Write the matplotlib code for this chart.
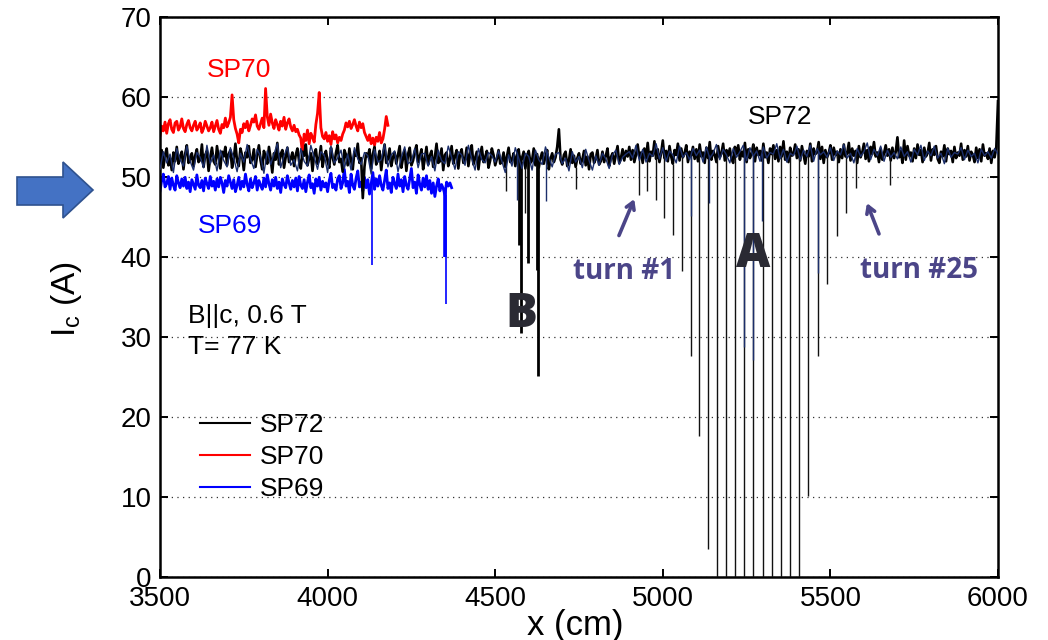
import numpy as np
import matplotlib
matplotlib.use('Agg')
import matplotlib.pyplot as plt
from matplotlib.patches import Polygon

plt.rcParams['font.family'] = ['Liberation Sans', 'DejaVu Sans']
plt.rcParams['mathtext.fontset'] = 'custom'
plt.rcParams['mathtext.rm'] = 'Liberation Sans'

# ---------------- data ----------------
x_ticks = [3500, 4000, 4500, 5000, 5500, 6000]
y_ticks = [0, 10, 20, 30, 40, 50, 60, 70]

# SP72 main trace, samples every 5 cm from 3500 cm
sp72_start, sp72_step = 3500, 5
sp72 = [
 52.1,53.4,51.2,52.8,53.6,51.5,52.4,50.9,53.1,52.0,53.8,51.7,52.6,53.2,51.0,52.9,54.0,51.8,52.3,53.0,
 51.4,52.7,53.5,51.9,52.2,54.1,51.3,52.8,53.3,50.8,52.5,53.7,52.0,51.6,53.9,52.4,51.1,53.2,52.6,53.8,
 51.5,52.9,53.4,51.2,52.3,54.2,52.0,51.4,53.6,52.7,50.9,53.1,52.5,53.9,51.8,52.2,53.5,51.3,52.8,54.0,
 52.1,51.0,53.3,52.6,51.7,53.8,52.4,50.6,53.0,52.2,54.3,51.6,52.9,53.4,51.2,52.5,53.7,51.9,52.3,53.1,
 51.4,52.8,53.6,52.0,51.1,53.2,52.7,54.1,51.5,52.4,53.0,50.8,52.9,53.5,51.7,52.2,53.9,51.3,52.6,53.3,
 52.0,51.2,53.7,52.5,51.6,53.1,54.0,51.9,52.3,50.7,53.4,52.8,51.5,53.6,52.1,51.0,53.2,52.7,54.2,51.8,
 52.4,47.4,51.3,53.0,52.6,53.5,51.1,52.9,53.8,51.6,52.2,53.3,50.9,52.7,54.1,51.8,52.3,53.6,51.4,52.5,
 53.1,51.7,52.8,53.9,51.2,52.4,53.4,50.8,52.9,53.7,51.5,52.1,53.2,54.0,51.9,52.6,53.5,51.0,52.3,53.8,
 51.6,52.7,53.3,51.3,52.5,54.2,51.8,52.0,53.6,50.9,52.8,53.1,51.4,52.3,53.9,51.7,52.6,53.4,51.1,52.9,
 53.5,51.8,52.2,53.7,51.4,52.9,54.0,51.6,52.4,53.2,51.0,52.7,53.8,51.9,52.5,53.3,51.2,52.1,53.6,52.8,
 51.5,52.3,53.4,51.7,52.0,53.1,51.3,52.6,53.7,51.9,52.2,53.0,51.4,52.8,53.5,51.6,52.4,53.2,51.1,52.7,
 53.3,51.8,52.1,53.6,51.5,52.9,51.2,52.4,53.1,51.7,52.6,53.4,51.0,52.3,53.0,51.9,52.5,53.8,56.0,52.2,
 51.6,52.8,53.2,51.4,52.1,53.5,51.8,52.7,51.3,52.4,53.0,51.7,52.2,53.3,51.5,52.6,51.0,52.9,53.1,51.8,
 52.3,53.4,51.6,52.0,53.2,51.9,52.7,53.6,51.4,52.5,53.0,51.7,52.8,53.9,51.8,52.4,53.5,52.1,53.3,52.6,
 53.8,52.2,53.4,51.9,52.8,54.1,52.5,53.1,51.8,53.6,52.4,54.3,52.0,53.2,52.7,54.5,52.3,53.5,51.9,53.0,
 54.6,52.4,53.3,52.0,53.9,52.6,51.7,53.4,52.8,54.2,52.1,53.6,52.5,53.0,54.0,51.9,53.2,52.7,53.8,52.3,
 53.5,52.0,54.1,52.6,53.1,51.8,53.7,52.4,54.4,52.2,53.3,52.8,51.9,53.9,52.5,53.0,54.2,52.1,53.4,52.7,
 53.6,52.3,51.8,53.8,52.9,54.0,52.2,53.2,52.6,54.3,51.9,53.5,52.4,53.0,54.1,52.0,53.7,52.8,53.3,52.1,
 54.2,52.5,53.1,51.8,53.6,52.9,54.0,52.3,53.4,52.0,53.8,52.6,54.5,52.2,53.2,51.9,53.7,52.7,53.0,54.1,
 52.4,53.5,52.1,53.9,52.8,51.7,53.3,52.6,54.2,52.0,53.6,52.9,53.1,54.4,52.3,53.8,51.8,53.4,52.5,53.0,
 54.0,52.2,53.7,52.8,53.2,51.9,53.5,52.4,54.1,52.6,53.0,54.3,52.1,53.6,52.7,53.3,51.8,53.9,52.5,53.1,
 54.2,52.3,53.4,52.0,53.8,52.9,54.4,52.6,53.1,51.9,53.6,52.2,53.0,54.0,52.7,53.5,52.1,53.7,52.4,53.2,
 55.0,52.5,53.3,51.8,54.6,52.2,53.9,52.7,53.1,52.0,53.6,52.4,54.1,52.8,53.4,51.9,53.7,52.6,53.0,54.3,
 52.1,53.5,52.8,53.9,52.3,51.8,53.2,52.6,54.0,52.0,53.6,52.9,53.3,51.9,53.8,52.4,53.1,52.7,54.2,52.2,
 53.4,52.6,53.9,52.1,53.2,52.8,51.9,53.7,52.4,53.5,52.0,54.1,52.7,53.0,52.3,53.6,51.8,53.3,52.5,53.8,
 59.5]

# SP72 second (navy) trace, samples every 10 cm from 3500 cm
sp72b_start, sp72b_step = 3500, 10
sp72b = [
 51.0,53.2,51.8,52.9,50.6,53.6,52.2,51.4,53.9,52.0,50.9,53.1,52.5,51.2,54.0,51.7,52.8,50.8,53.4,52.1,
 51.3,53.7,52.4,50.7,53.0,51.9,54.1,52.3,51.1,53.5,52.6,50.5,53.3,51.6,52.9,54.2,51.2,52.7,53.8,51.5,
 52.2,50.8,53.6,52.0,51.4,54.0,52.5,51.0,53.2,52.8,50.6,53.9,51.8,52.4,53.4,51.1,52.9,50.9,53.7,52.3,
 51.6,53.1,52.7,50.4,53.5,51.9,52.2,54.1,51.3,52.8,53.3,50.7,52.5,53.8,51.7,52.0,53.6,51.2,52.9,53.0,
 51.4,52.6,50.8,53.4,52.1,51.7,53.9,52.5,51.0,53.2,52.8,51.5,54.0,52.3,50.9,53.6,52.2,51.8,53.1,52.7,
 51.9,53.3,52.0,50.6,52.8,51.4,53.7,52.4,51.1,53.0,52.6,50.9,53.4,52.2,51.6,53.8,52.5,51.3,52.9,53.1,
 51.7,52.4,50.8,53.2,51.9,52.6,51.2,53.5,52.1,50.9,52.7,51.5,53.0,52.3,51.1,52.8,53.4,51.6,52.5,52.9,
 53.2,52.4,54.0,52.1,53.5,51.9,53.0,52.6,54.2,52.3,53.7,52.0,53.3,52.8,51.8,53.9,52.5,53.1,52.2,53.6,
 52.7,53.4,51.9,53.8,52.4,53.0,54.1,52.2,53.5,52.8,51.8,53.6,52.5,53.2,54.0,52.1,53.7,52.6,53.3,52.0,
 53.8,52.4,53.1,52.9,54.2,52.3,53.5,51.9,53.0,52.7,53.9,52.2,53.4,52.6,54.0,52.0,53.6,52.8,53.2,52.5,
 53.7,52.1,53.3,52.8,54.1,52.4,53.0,51.8,53.6,52.6,53.2,54.3,52.2,53.5,52.7,53.9,52.0,53.4,52.5,53.1,
 52.3,53.8,52.6,53.2,51.9,53.5,52.8,54.0,52.1,53.3,52.7,53.9,52.4,53.0,51.7,53.6,52.5,53.1,52.9,53.7,
 52.2,53.4,52.6,53.0,51.8,53.5,52.7,53.2,52.4,53.6,52.9]

# SP70, samples every 5 cm from 3500 cm
sp70_start, sp70_step = 3500, 5
sp70 = [
 55.2,56.4,55.8,56.9,55.5,56.7,57.2,56.0,55.6,56.8,57.0,55.9,56.3,57.3,56.1,55.7,56.6,57.1,56.2,55.8,
 56.5,57.0,55.9,56.3,56.8,55.6,56.1,57.0,56.4,55.8,56.2,56.9,55.7,56.4,57.1,56.0,55.5,56.6,56.2,57.4,
 56.3,56.8,57.5,60.3,57.2,56.1,55.4,54.3,56.0,55.6,56.7,56.2,57.0,55.8,56.5,57.3,56.9,57.8,56.4,56.0,
 56.7,57.4,56.2,61.1,57.6,56.5,57.9,56.8,56.1,57.2,56.6,55.9,57.0,56.4,57.5,56.0,56.8,57.3,56.3,55.8,
 56.5,55.7,56.0,55.3,54.9,53.0,55.4,54.6,55.9,54.2,55.5,55.0,54.4,56.6,58.0,60.6,56.2,55.1,54.8,55.6,
 54.5,55.2,54.1,55.7,54.8,55.3,54.3,55.0,54.6,55.4,55.9,56.8,56.3,57.0,56.1,56.6,57.2,56.4,55.8,56.9,
 56.2,56.7,55.6,55.1,54.6,55.3,54.2,54.9,54.0,55.0,54.5,55.6,54.3,54.8,56.0,57.6,56.5]

# SP69, samples every 5 cm from 3500 cm
sp69_start, sp69_step = 3500, 5
sp69 = [
 48.3,49.6,50.4,48.8,49.2,50.1,48.5,49.9,49.0,48.4,50.2,49.3,48.7,49.8,48.9,50.0,48.6,49.4,48.2,49.7,
 49.1,48.5,50.3,49.0,48.7,49.6,48.3,49.9,49.2,48.6,50.1,48.9,49.5,48.4,49.8,48.8,50.0,49.3,48.1,49.6,
 48.9,50.2,49.4,48.6,49.7,48.2,49.0,50.0,48.5,49.5,48.8,50.4,49.1,48.3,49.8,48.7,49.3,50.1,48.4,49.6,
 49.0,48.5,49.9,48.8,50.3,49.2,48.4,49.7,48.9,50.0,48.6,49.4,48.1,49.8,49.1,48.7,50.2,49.3,48.5,49.6,
 48.8,49.9,48.3,50.1,49.0,48.6,49.7,48.2,49.4,50.3,48.7,49.2,48.0,49.8,48.9,50.0,48.4,49.5,48.8,49.3,
 48.2,49.6,50.5,48.7,49.1,48.4,49.8,50.2,48.6,49.3,51.0,48.9,49.5,48.1,50.4,49.0,48.5,49.9,50.8,48.8,
 49.4,48.3,50.0,48.7,49.7,47.9,49.2,50.6,48.5,49.8,48.9,50.2,49.0,48.4,49.6,50.9,48.6,49.3,48.1,50.0,
 49.2,48.6,50.4,48.9,49.7,48.2,50.1,49.0,48.5,49.8,51.1,48.7,49.4,48.0,50.3,49.1,48.4,49.9,48.8,50.2,
 48.5,49.6,48.0,49.3,47.6,48.9,49.8,48.3,49.1,48.6,47.8,49.4,48.9,49.3,48.7]

# narrow Ic drops (position cm, minimum A)
dipA_x = [4930, 4952, 4979, 5004, 5030, 5057, 5084, 5109, 5135, 5162, 5188, 5216, 5243,
          5270, 5298, 5325, 5352, 5379, 5406, 5434, 5464, 5491, 5519, 5547, 5576, 5678,
          4532, 4590, 4740]
dipA_y = [47.8, 48.3, 47.2, 44.9, 42.8, 38.3, 27.6, 17.6, 3.6, 0, 0, 0, 0,
          0, 0, 0, 0, 0, 0, 10.1, 27.6, 36.7, 42.6, 45.5, 48.6, 49.0,
          48.3, 45.5, 48.5]
dipB_x = [4572, 4578, 4599, 4624, 4627]
dipB_y = [41.5, 30.5, 39.3, 38.4, 25.1]
dip72b_x = [4565, 4652, 5083, 5137, 5243, 5270, 5296, 5464]
dip72b_y = [47.2, 47.0, 45.1, 46.8, 28.8, 27.2, 44.5, 38.0]
dip69_x = [4132, 4350, 4353]
dip69_y = [39.0, 40.0, 34.2]

# ---------------- figure ----------------
W, H = 1048, 640
fig = plt.figure(figsize=(W / 100, H / 100), dpi=100)
L, R, T, B = 160, 998, 17.3, 577.3
ax = fig.add_axes([L / W, 1 - B / H, (R - L) / W, (B - T) / H])

def xs(start, step, vals):
    return start + step * np.arange(len(vals))

x72 = xs(sp72_start, sp72_step, sp72)
x72b = xs(sp72b_start, sp72b_step, sp72b)
x70 = xs(sp70_start, sp70_step, sp70)
x69 = xs(sp69_start, sp69_step, sp69)

navy = '#1c2f6b'
ax.plot(x69, sp69, color='#0000ff', lw=2.0, zorder=2)
ax.vlines(dip69_x[:1], dip69_y[:1], np.interp(dip69_x[:1], x69, sp69), color='#0000ff', lw=1.2, zorder=2)
ax.vlines(dip69_x[1:2], dip69_y[1:2], np.interp(dip69_x[1:2], x69, sp69), color='#0000ff', lw=2.6, zorder=2)
ax.vlines(dip69_x[2:], dip69_y[2:], np.interp(dip69_x[2:], x69, sp69), color='#0000ff', lw=1.2, zorder=2)
ax.plot(x70, sp70, color='#ff0000', lw=2.0, zorder=2)

ax.plot(x72, sp72, color='black', lw=1.9, zorder=3)
ax.vlines(dipA_x, dipA_y, np.interp(dipA_x, x72, sp72), color='#111111', lw=1.0, zorder=3)
ax.vlines(dipB_x, dipB_y, np.interp(dipB_x, x72, sp72), color='black', lw=2.0, zorder=3)
ax.plot(x72b, sp72b, color=navy, lw=1.0, zorder=4)
ax.vlines(dip72b_x, dip72b_y, np.interp(dip72b_x, x72b, sp72b), color=navy, lw=1.0, zorder=4)

ax.set_xlim(x_ticks[0], x_ticks[-1])
ax.set_ylim(y_ticks[0], y_ticks[-1])
ax.set_xticks(x_ticks)
ax.set_yticks(y_ticks)
ax.tick_params(direction='in', length=6, width=1.4, top=True, right=True,
               labelsize=20, pad=6)
for s in ax.spines.values():
    s.set_linewidth(1.8)
ax.yaxis.grid(True, linestyle=(0, (1, 3.5)), color='#333333', lw=0.9)
ax.set_axisbelow(True)

# legend (lines only, labels from series)
h72, = ax.plot([], [], color='black', lw=1.5)
h70, = ax.plot([], [], color='#ff0000', lw=1.5)
h69, = ax.plot([], [], color='#0000ff', lw=1.5)
ax.legend([h72, h70, h69], ['SP72', 'SP70', 'SP69'], loc='upper left',
          bbox_to_anchor=((200 - L) / (R - L), (B - 413) / (B - T)),
          frameon=False, fontsize=19, handlelength=1.9, handletextpad=0.35,
          labelspacing=0.3, borderaxespad=0, borderpad=0)

# text annotations
ax.text(3736, 63.4, 'SP70', color='#ff0000', fontsize=19, ha='center', va='center')
ax.text(3709, 43.9, 'SP69', color='#0000ff', fontsize=19, ha='center', va='center')
ax.text(5350, 57.5, 'SP72', color='black', fontsize=19, ha='center', va='center')
ax.text(3584, 32.6, 'B||c, 0.6 T', color='black', fontsize=19, ha='left', va='center')
ax.text(3584, 28.8, 'T= 77 K', color='black', fontsize=19, ha='left', va='center')

purple = '#4b4588'
ax.text(4884, 38.2, 'turn #1', color=purple, fontsize=20, fontweight='bold',
        family=['Open Sans', 'DejaVu Sans'], ha='center', va='center')
ax.text(5764, 38.4, 'turn #25', color=purple, fontsize=20, fontweight='bold',
        family=['Open Sans', 'DejaVu Sans'], ha='center', va='center')
ax.annotate('', xy=(4918, 47.6), xytext=(4866, 42.4),
            arrowprops=dict(arrowstyle='->,head_length=0.5,head_width=0.3', lw=2.6, color=purple))
ax.annotate('', xy=(5606, 47.1), xytext=(5648, 42.6),
            arrowprops=dict(arrowstyle='->,head_length=0.5,head_width=0.3', lw=2.6, color=purple))
ax.text(5268, 40.3, 'A', color='#2a2a33', fontsize=34, fontweight='heavy',
        family=['Open Sans', 'DejaVu Sans'], ha='center', va='center', zorder=6)
ax.text(4577, 32.8, 'B', color='#2a2a33', fontsize=34, fontweight='heavy',
        family=['Open Sans', 'DejaVu Sans'], ha='center', va='center', zorder=6)

# axis labels
fig.text(575 / W, 1 - 625 / H, 'x (cm)', fontsize=25, ha='center', va='center')
fig.text(67 / W, 1 - 299 / H, r'I$_\mathrm{c}$ (A)', fontsize=24, rotation=90,
         ha='center', va='center')

# blue block arrow at left
pts = [(17, 177), (63, 177), (63, 162), (93, 190), (63, 218), (63, 205), (17, 205)]
arrow = Polygon([(px / W, 1 - py / H) for px, py in pts], closed=True,
                transform=fig.transFigure, facecolor='#4472c4', edgecolor='#2f528f', lw=1.2)
fig.patches.append(arrow)

fig.savefig('out.png', dpi=100)
